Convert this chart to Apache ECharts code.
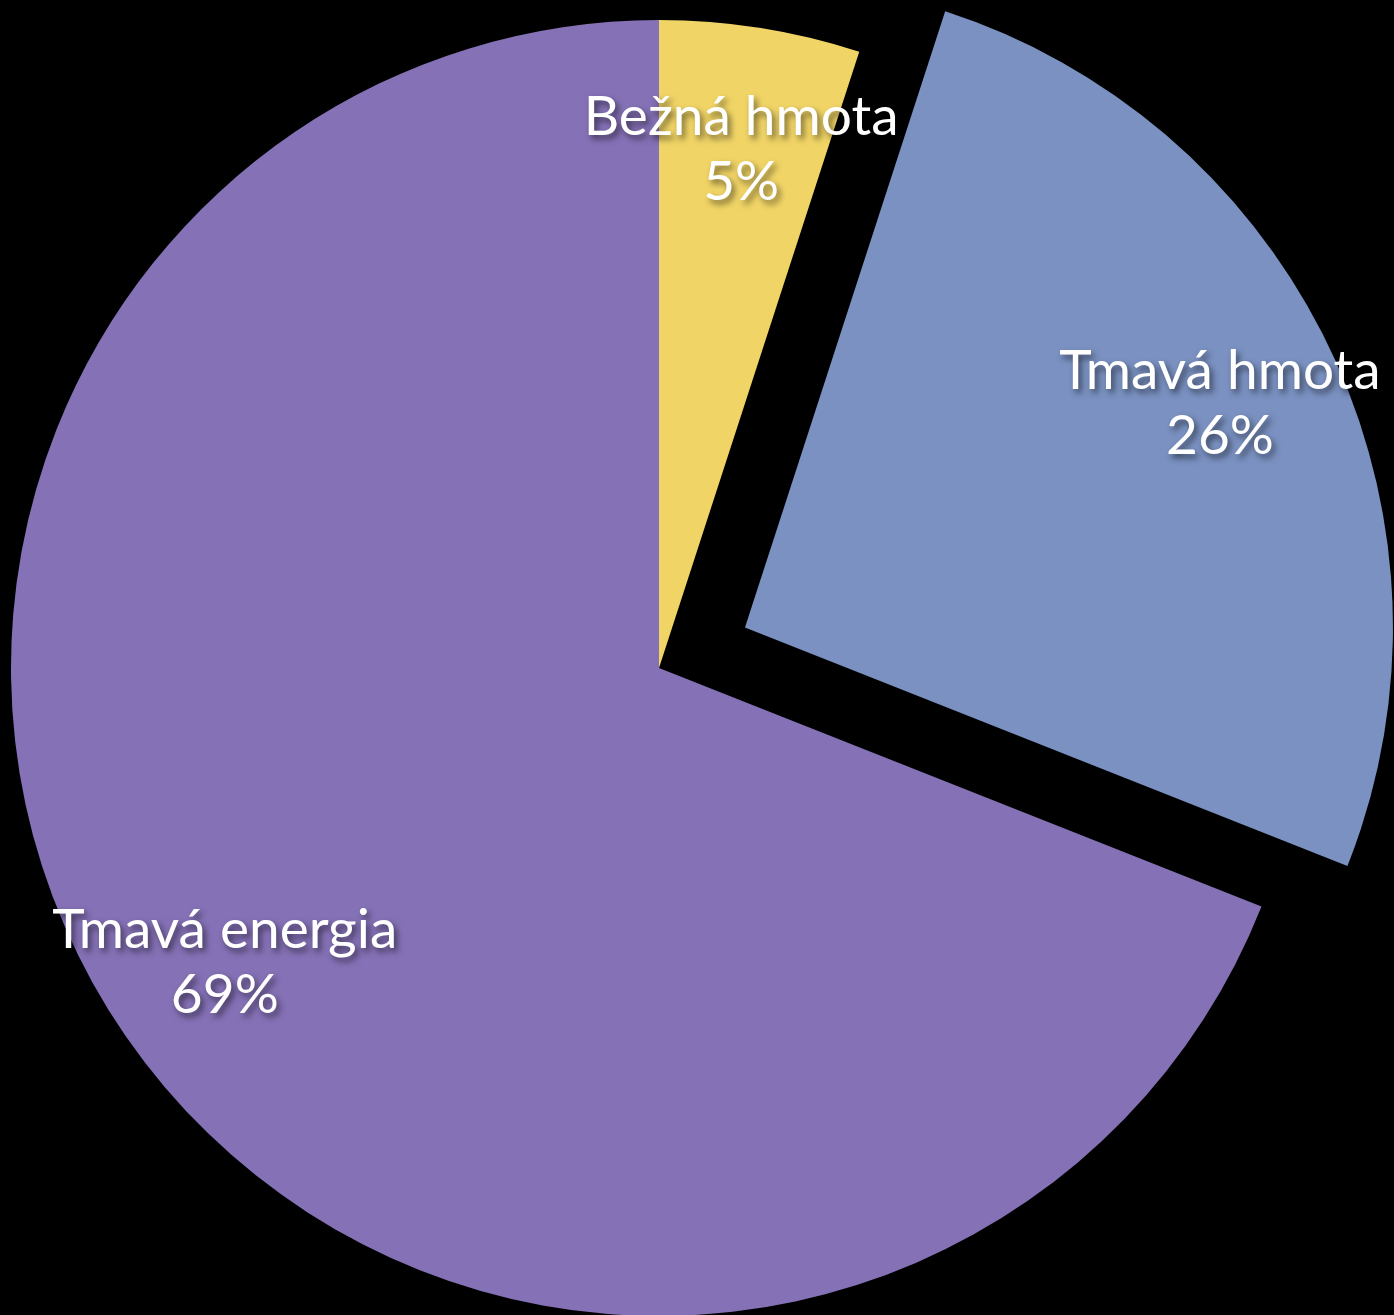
<!DOCTYPE html>
<html>
<head>
<meta charset="utf-8">
<style>
  html, body { margin: 0; padding: 0; background: #000; }
  #chart { width: 1394px; height: 1315px; }
</style>
<script src="https://cdn.jsdelivr.net/npm/echarts@6/dist/echarts.min.js"></script>
</head>
<body>
<div id="chart"></div>
<script>
// zložky vesmíru
const names = ['Bežná hmota', 'Tmavá hmota', 'Tmavá energia']
const shares = [5, 26, 69]
const colors = ['#F0D466', '#7A91C1', '#8571B6']
const exploded = [false, true, false]

const chart = echarts.init(document.getElementById('chart'))

const center = [659, 668]
const R = 648

const pieData = names.map((n, i) => ({
  name: n, value: shares[i], selected: exploded[i],
  itemStyle: { color: colors[i] }
}))

const labelData = names.map((n, i) => ({
  name: n, value: shares[i], selected: exploded[i]
}))

chart.setOption({
  backgroundColor: '#000',
  animation: false,
  series: [
    {
      type: 'pie', center, radius: [0, R],
      startAngle: 90, clockwise: true,
      selectedMode: 'single', selectedOffset: 95,
      label: { show: false }, labelLine: { show: false },
      itemStyle: { borderWidth: 0 },
      select: { itemStyle: { borderWidth: 0 } },
      emphasis: { disabled: true },
      silent: true,
      data: pieData
    },
    {
      // priehľadná vrstva len kvôli umiestneniu popisov (~0.8 R)
      type: 'pie', center, radius: [396, R],
      startAngle: 90, clockwise: true,
      selectedMode: 'single', selectedOffset: 95,
      itemStyle: { color: 'rgba(0,0,0,0)', borderWidth: 0 },
      select: { itemStyle: { color: 'rgba(0,0,0,0)', borderWidth: 0 } },
      emphasis: { disabled: true },
      silent: true,
      labelLine: { show: false },
      label: {
        show: true, position: 'inside',
        formatter: p => `${p.name}\n${p.value}%`,
        color: '#fff', fontSize: 55, lineHeight: 65,
        fontFamily: 'Lato, "Open Sans", sans-serif',
        textShadowColor: 'rgba(0,0,0,0.55)', textShadowBlur: 6,
        textShadowOffsetX: 3, textShadowOffsetY: 4
      },
      data: labelData
    }
  ]
})
</script>
</body>
</html>
